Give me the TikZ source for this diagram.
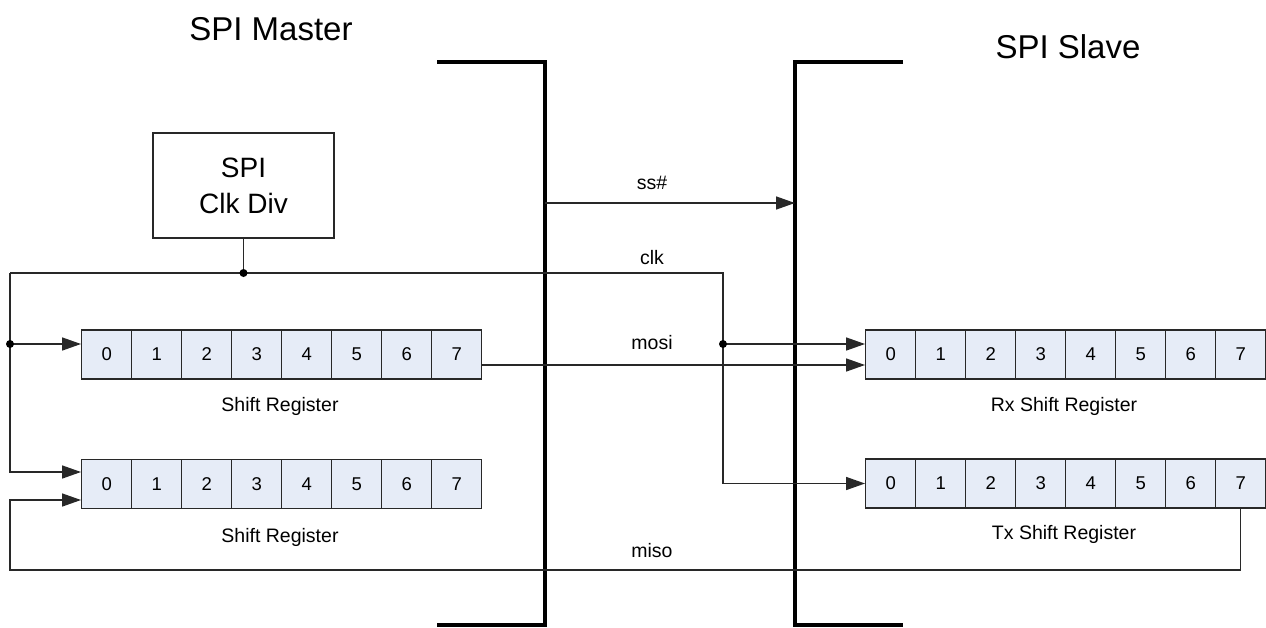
\documentclass[tikz,border=0pt]{standalone}
\usepackage{fontspec}
\setmainfont{Liberation Sans}
\usetikzlibrary{arrows.meta}
\definecolor{cellfill}{RGB}{230,236,247}
\definecolor{wirecol}{RGB}{40,40,40}
\begin{document}
\begin{tikzpicture}[x=1pt,y=-1pt,
  wire/.style={line width=1.45pt, draw=wirecol},
  sig/.style={wire, -{Triangle[length=19pt,width=13pt]}},
  frame/.style={line width=3.1pt, draw=black},
  cell/.style={draw=wirecol, line width=1.3pt, fill=cellfill, minimum width=50pt,
    minimum height=49pt, inner sep=0pt, font=\fontsize{18.5}{22}\selectfont},
  lbl/.style={inner sep=0pt, font=\fontsize{19.5}{22}\selectfont},
  title/.style={inner sep=0pt, font=\fontsize{33}{38}\selectfont},
  dot/.style={fill=black},
  divbox/.style={draw=wirecol, line width=1.3pt, minimum width=181pt, minimum height=105pt,
    align=center, inner sep=0pt, font=\fontsize{28}{36}\selectfont}]
\useasboundingbox (0,0) rectangle (1266,627);

% titles
\node[title] (tm) at (271,29) {SPI Master};
\node[title] (ts) at (1068,47) {SPI Slave};

% brackets
\draw[frame] (437,62) -- (545,62) -- (545,625) -- (437,625);
\draw[frame] (903,62) -- (795,62) -- (795,625) -- (903,625);

% clock divider
\node[divbox] (clkdiv) at (243.5,185.5) {SPI\\Clk Div};

% registers
\foreach \i in {0,...,7} {
  \node[cell] (ma\i) at (106.7+50*\i,354.5) {\i};
  \node[cell] (mb\i) at (106.7+50*\i,484) {\i};
  \node[cell] (rx\i) at (890.7+50*\i,354.5) {\i};
  \node[cell] (tx\i) at (890.7+50*\i,483.5) {\i};
}
\node[lbl] (la) at (280,406) {Shift Register};
\node[lbl] (lb) at (280,537) {Shift Register};
\node[lbl] (lrx) at (1064,406) {Rx Shift Register};
\node[lbl] (ltx) at (1064,534) {Tx Shift Register};

% coordinates
\coordinate (clkL) at (10,273);
\coordinate (clkR) at (723,273);
\coordinate (ssA) at (545,203);
\coordinate (ssB) at (795,203);
\coordinate (misoY) at (0,570);
\coordinate (mainA) at ([yshift=10.5pt]ma0.west);
\coordinate (mainB1) at ([yshift=12pt]mb0.west);
\coordinate (mainB2) at ([yshift=-16pt]mb0.west);
\coordinate (mosiA) at ([yshift=-10.5pt]ma7.east);
\coordinate (rxA) at ([yshift=10.5pt]rx0.west);
\coordinate (rxB) at ([yshift=-10.5pt]rx0.west);

% ss#
\draw[sig] (ssA) -- (ssB);
\node[lbl] (lss) at (652,183) {ss\#};

% clk
\draw[wire] (clkdiv.south) -- (clkdiv.south |- clkL);
\draw[sig] (clkL) -- (clkR) -- (clkR |- tx0.west) -- (tx0.west);
\draw[sig] (clkL) -- (clkL |- mainB1) -- (mainB1);
\draw[sig] (clkL |- mainA) -- (mainA);
\draw[sig] (clkR |- rxA) -- (rxA);
\fill[dot] (clkdiv.south |- clkL) circle (4pt);
\fill[dot] (clkL |- mainA) circle (4pt);
\fill[dot] (clkR |- rxA) circle (4pt);
\node[lbl] (lclk) at (652,258) {clk};

% mosi
\draw[sig] (mosiA) -- (rxB);
\node[lbl] (lmosi) at (652,343) {mosi};

% miso
\draw[sig] (tx7.south) -- (tx7.south |- misoY) -- (clkL |- misoY) -- (clkL |- mainB2) -- (mainB2);
\node[lbl] (lmiso) at (652,551) {miso};
\end{tikzpicture}
\end{document}
